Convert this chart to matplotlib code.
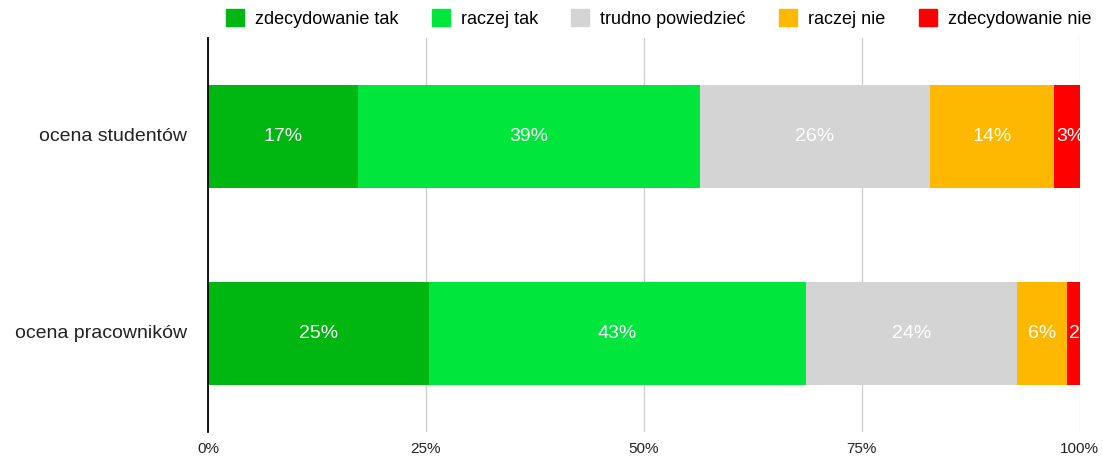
import matplotlib.pyplot as plt
import matplotlib.patches as mpatches

plt.rcParams['font.family'] = ['Liberation Sans', 'DejaVu Sans']

# --- data ---
categories = ["ocena pracowników", "ocena studentów"]
series_names = ["zdecydowanie tak", "raczej tak", "trudno powiedzieć", "raczej nie", "zdecydowanie nie"]
students = [17.2, 39.2, 26.4, 14.3, 2.9]
employees = [25.3, 43.3, 24.2, 5.7, 1.5]
labels_students = ["17%", "39%", "26%", "14%", "3%"]
labels_employees = ["25%", "43%", "24%", "6%", "2%"]
colors = ["#00B712", "#00E63D", "#D4D4D4", "#FFB800", "#FF0000"]
ticks = [0, 25, 50, 75, 100]
tick_labels = ["0%", "25%", "50%", "75%", "100%"]

fig = plt.figure(figsize=(11.03, 4.57), dpi=100)
ax = fig.add_axes([0.1886, 0.055, 0.7902, 0.862])

rows = [employees, students]
row_labels = [labels_employees, labels_students]
for yi, (vals, labs) in enumerate(zip(rows, row_labels)):
    left = 0
    for v, lab, c in zip(vals, labs, colors):
        ax.barh(yi, v, left=left, height=0.52, color=c, zorder=2)
        if v < 4:
            # too narrow: label starts at the segment and gets cut at the edge
            ax.text(left + 0.25, yi, lab, ha='left', va='center',
                    color='white', fontsize=14, zorder=3, clip_on=True)
        else:
            ax.text(left + v / 2, yi, lab, ha='center', va='center',
                    color='white', fontsize=14, zorder=3, clip_on=True)
        left += v

ax.set_xlim(0, 100)
ax.set_ylim(-0.5, 1.5)
ax.set_yticks([0.01, 1.01])
ax.set_yticklabels(categories, fontsize=14, color='#222222')
ax.set_xticks(ticks)
ax.set_xticklabels(tick_labels, fontsize=11, color='#222222')
ax.tick_params(axis='x', length=0, pad=7)
ax.tick_params(axis='y', length=0, pad=15)
ax.xaxis.grid(True, color='#CCCCCC', lw=0.9, zorder=0)
for s in ['top', 'right', 'bottom']:
    ax.spines[s].set_visible(False)
ax.spines['left'].set_color('black')
ax.spines['left'].set_linewidth(1.3)
ax.spines['left'].set_zorder(4)

handles = [mpatches.Patch(color=c, label=n) for c, n in zip(colors, series_names)]
fig.legend(handles=handles, loc='upper center', bbox_to_anchor=(0.597, 1.015), ncol=5,
           frameon=False, fontsize=13, handlelength=1.0, handleheight=1.0,
           handletextpad=0.6, columnspacing=1.85)

fig.savefig("out.png", dpi=100)
